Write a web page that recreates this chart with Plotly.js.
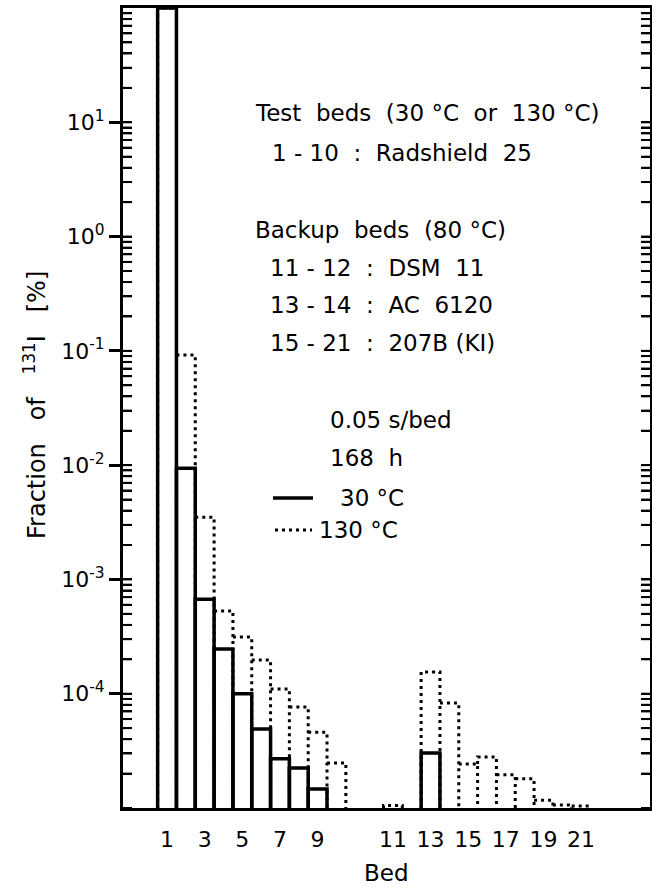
<!DOCTYPE html>
<html><head><meta charset="utf-8">
<script src="https://cdn.plot.ly/plotly-3.0.1.min.js"></script>
<style>html,body{margin:0;padding:0;background:#fff;overflow:hidden}#chart{width:652px;height:888px}</style>
</head><body><div id="chart"></div>
<script>
// ---- data ----
const beds = [1,2,3,4,5,6,7,8,9,10,11,12,13,14,15,16,17,18,19,20,21];
// 30 degC, fraction of I-131 [%] (null = below scale)
const frac30 = [100, 0.0094, 6.7e-4, 2.46e-4, 1.0e-4, 4.9e-5, 2.7e-5, 2.24e-5, 1.47e-5, null,
                null, null, 3.03e-5, null, null, null, null, null, null, null, null];
// 130 degC
const frac130 = [100, 0.092, 3.5e-3, 5.3e-4, 3.13e-4, 1.97e-4, 1.1e-4, 7.65e-5, 4.6e-5, 2.48e-5,
                 1.05e-5, null, 1.55e-4, 8.3e-5, 2.43e-5, 2.8e-5, 1.95e-5, 1.8e-5, 1.17e-5, 1.06e-5, 1.04e-5];
const xTickBeds = [1,3,5,7,9,11,13,15,17,19,21];
const yTickVals = [10, 1, 0.1, 0.01, 1e-3, 1e-4];
const yTickText = ['10<sup>1</sup>','10<sup>0</sup>','10<sup>-1</sup>','10<sup>-2</sup>','10<sup>-3</sup>','10<sup>-4</sup>'];
const yRangeExp = [-5, 2];
const xTitle = 'Bed';
const yTitle = 'Fraction   of   <sup>131</sup>I   [%]';

// ---- helpers ----
// backup beds (11+) are drawn after a gap of two bed widths
const pos = b => (b <= 10 ? b : b + 2);
const floorVal = Math.pow(10, yRangeExp[0]);

// log sub-ticks (1..9 of each decade)
const logTickVals = [];
for (let e = yRangeExp[0]; e < yRangeExp[1]; e++) {
  for (let m = 1; m <= 9; m++) logTickVals.push(m * Math.pow(10, e));
}

// dotted outline for 130 degC
const dx = [], dy = [];
frac130.forEach((v, i) => {
  if (v == null) return;
  const p = pos(beds[i]);
  const prevOk = i > 0 && frac130[i-1] != null && pos(beds[i-1]) === p - 1;
  const prev = prevOk ? frac130[i-1] : floorVal;
  if (prev < v) { dx.push(p - 0.5); dy.push(prev); }
  dx.push(p - 0.5); dy.push(v);
  dx.push(p + 0.5); dy.push(v);
  dx.push(p + 0.5); dy.push(floorVal);
  dx.push(null); dy.push(null);
});

const DOT = {color: '#000', width: 3, dash: '3px,4px'};
const traces = [
  {
    type: 'bar', name: '30 °C',
    x: beds.map(pos), y: frac30, width: 1,
    marker: {color: 'rgba(0,0,0,0)', line: {color: '#000', width: 3.5}},
    hoverinfo: 'x+y'
  },
  {
    type: 'scatter', mode: 'lines', name: '130 °C',
    x: dx, y: dy, connectgaps: false,
    line: DOT, hoverinfo: 'skip'
  }
];

// plot area: x 123..650, y 8..808
const PLOT_W = 527, PLOT_H = 800;
const px = v => (v - 123) / PLOT_W;
const py = v => (808 - v) / PLOT_H;
const F = {family: 'DejaVu Sans', size: 23, color: '#000'};
const notes = [
  ['Test  beds  (30 °C  or  130 °C)', 253, 113],
  ['1 - 10  :  Radshield  25', 270, 153],
  ['Backup  beds  (80 °C)', 253, 230],
  ['11 - 12  :  DSM  11', 268, 268],
  ['13 - 14  :  AC  6120', 268, 305],
  ['15 - 21  :  207B (KI)', 268, 343],
  ['0.05 s/bed', 328, 420],
  ['168  h', 328, 458],
  ['30 °C', 338, 498],
  ['130 °C', 317, 530]
];
const annotations = notes.map(n => ({
  text: n[0], x: px(n[1]), y: py(n[2]), xref: 'paper', yref: 'paper',
  xanchor: 'left', yanchor: 'middle', showarrow: false, font: F
}));
// axis titles
annotations.push({text: xTitle, x: 0.5, y: py(873), xref: 'paper', yref: 'paper',
  xanchor: 'center', yanchor: 'middle', showarrow: false, font: F});
annotations.push({text: yTitle, x: px(35), y: py(405), xref: 'paper', yref: 'paper', textangle: -90,
  xanchor: 'center', yanchor: 'middle', showarrow: false, font: {family: 'DejaVu Sans', size: 24, color: '#000'}});

const shapes = [
  {type: 'line', xref: 'paper', yref: 'paper', x0: px(273), x1: px(313), y0: py(498), y1: py(498),
   line: {color: '#000', width: 3.5}},
  {type: 'line', xref: 'paper', yref: 'paper', x0: px(275), x1: px(312), y0: py(530), y1: py(530),
   line: DOT}
];

// inward log tick marks on the left and right frame
const TICK_IN = 9 / PLOT_W;
const logFrac = v => (Math.log10(v) - yRangeExp[0]) / (yRangeExp[1] - yRangeExp[0]);
logTickVals.forEach((v, k) => {
  const f = logFrac(v);
  if (f <= 0.001) return;
  [[0, TICK_IN], [1, 1 - TICK_IN]].forEach(([a, b]) => shapes.push({
    type: 'line', xref: 'paper', yref: 'paper', x0: a, x1: b, y0: f, y1: f,
    layer: 'above', line: {color: '#000', width: 2}
  }));
});

const layout = {
  width: 652, height: 888,
  margin: {l: 123, r: 2, t: 8, b: 80, autoexpand: false},
  showlegend: false,
  xaxis: {
    range: [-1.34, 26.66],
    tickmode: 'array', tickvals: xTickBeds.map(pos), ticktext: xTickBeds.map(String),
    ticks: '', showline: true, mirror: true, linewidth: 3, linecolor: '#000',
    showgrid: false, zeroline: false, ticklabelstandoff: 10,
    tickfont: {family: 'DejaVu Sans', size: 22, color: '#000'},
    automargin: false
  },
  yaxis: {
    type: 'log', range: yRangeExp,
    tickmode: 'array', tickvals: yTickVals, ticktext: yTickText,
    ticks: 'outside', ticklen: 11, tickwidth: 3, tickcolor: '#000',
    minor: {tickmode: 'array', tickvals: logTickVals, ticks: 'inside', ticklen: 9, tickwidth: 2, tickcolor: '#000'},
    showline: true, mirror: 'ticks', linewidth: 3, linecolor: '#000',
    showgrid: false, zeroline: false,
    tickfont: {family: 'DejaVu Sans', size: 22, color: '#000'},
    automargin: false
  },
  annotations: annotations,
  shapes: shapes
};

Plotly.newPlot('chart', traces, layout, {displayModeBar: false, staticPlot: true});
</script>
</body></html>
